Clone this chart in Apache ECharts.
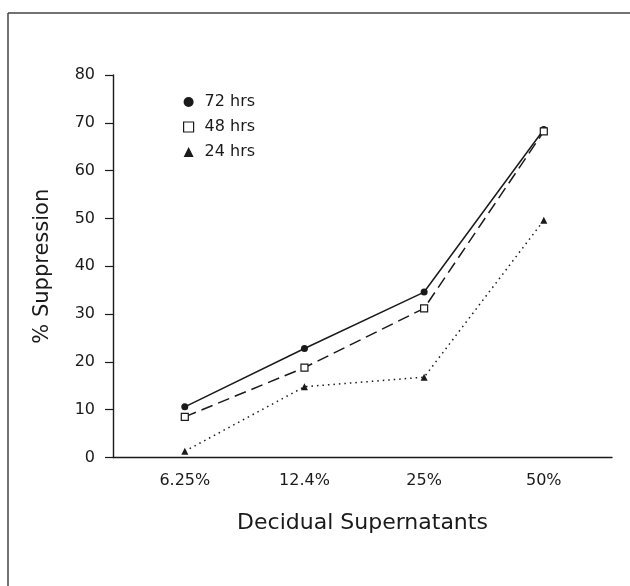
<!DOCTYPE html>
<html>
<head>
<meta charset="utf-8">
<script src="https://cdn.jsdelivr.net/npm/echarts@6/dist/echarts.min.js"></script>
<style>
html,body{margin:0;padding:0;background:#fff;}
#main{width:630px;height:586px;}
</style>
</head>
<body>
<div id="main"></div>
<script>
const categories = ['6.25%', '12.4%', '25%', '50%'];
const hrs72 = [10.6, 22.8, 34.6, 68.6];
const hrs48 = [8.5, 18.8, 31.2, 68.2];
const hrs24 = [1.3, 14.8, 16.8, 49.6];
const seriesNames = ['72 hrs', '48 hrs', '24 hrs'];
const yTicks = [0, 10, 20, 30, 40, 50, 60, 70, 80];

const FONT = 'DejaVu Sans';
const INK = '#1a1a1a';

const chart = echarts.init(document.getElementById('main'), null, {renderer: 'canvas'});
const toPts = arr => arr.map((v, i) => [i, v]);

chart.setOption({
  backgroundColor: '#ffffff',
  animation: false,
  textStyle: {fontFamily: FONT, color: INK},
  grid: {left: 113, right: 18, top: 75, bottom: 128.5},
  graphic: [
    {type: 'line', shape: {x1: 8, y1: 13, x2: 630, y2: 13}, style: {stroke: '#444', lineWidth: 1.5}},
    {type: 'line', shape: {x1: 8, y1: 13, x2: 8, y2: 586}, style: {stroke: '#444', lineWidth: 1.5}}
  ],
  legend: {
    orient: 'vertical',
    left: 183,
    top: 94,
    padding: 0,
    itemWidth: 10,
    itemHeight: 10,
    itemGap: 9,
    textStyle: {fontFamily: FONT, fontSize: 16, color: INK, padding: [0, 0, 0, 6]},
    data: [
      {name: seriesNames[0], icon: 'circle', itemStyle: {color: INK, borderWidth: 0}},
      {name: seriesNames[1], icon: 'rect', itemStyle: {color: '#fff', borderColor: INK, borderWidth: 1.2}},
      {name: seriesNames[2], icon: 'triangle', itemStyle: {color: INK, borderWidth: 0}}
    ]
  },
  xAxis: {
    type: 'value',
    min: -0.6,
    max: 3.57,
    name: 'Decidual Supernatants',
    nameLocation: 'middle',
    nameGap: 55,
    nameTextStyle: {fontFamily: FONT, fontSize: 22, color: INK},
    axisLine: {show: true, onZero: false, lineStyle: {color: INK, width: 1.4}},
    axisTick: {show: false},
    splitLine: {show: false},
    axisLabel: {
      customValues: [0, 1, 2, 3],
      formatter: v => categories[Math.round(v)],
      fontFamily: FONT, fontSize: 16, color: INK, margin: 15
    }
  },
  yAxis: {
    type: 'value',
    min: 0,
    max: 80,
    interval: 10,
    name: '% Suppression',
    nameLocation: 'middle',
    nameRotate: 90,
    nameGap: 60,
    nameTextStyle: {fontFamily: FONT, fontSize: 21, color: INK},
    axisLine: {show: true, onZero: false, lineStyle: {color: INK, width: 1.4}},
    axisTick: {show: true, length: 8, lineStyle: {color: INK, width: 1.2}},
    splitLine: {show: false},
    axisLabel: {
      customValues: yTicks,
      fontFamily: FONT, fontSize: 16, color: INK, margin: 18
    }
  },
  series: [
    {
      name: seriesNames[0], type: 'line', data: toPts(hrs72),
      symbol: 'circle', symbolSize: 7,
      itemStyle: {color: INK},
      lineStyle: {color: INK, width: 1.5, type: 'solid'}
    },
    {
      name: seriesNames[1], type: 'line', data: toPts(hrs48),
      symbol: 'rect', symbolSize: 7,
      itemStyle: {color: '#fff', borderColor: INK, borderWidth: 1.2},
      lineStyle: {color: INK, width: 1.5, type: [12, 6]}
    },
    {
      name: seriesNames[2], type: 'line', data: toPts(hrs24),
      symbol: 'triangle', symbolSize: 7,
      itemStyle: {color: INK},
      lineStyle: {color: INK, width: 1.5, type: [1.5, 4]}
    }
  ]
});
</script>
</body>
</html>
